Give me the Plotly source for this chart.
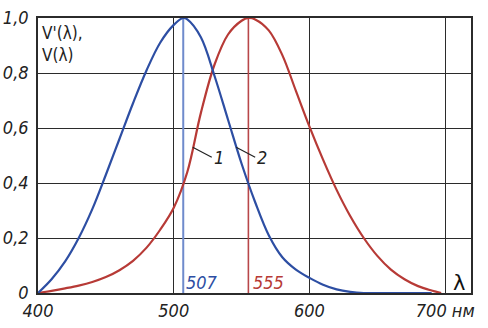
import plotly.graph_objects as go

# Scotopic V'(lambda) — curve 2 (blue)
wl_scot = [400, 410, 420, 430, 440, 450, 460, 470, 480, 490, 500, 507, 510, 520, 530, 540,
           550, 560, 570, 580, 590, 600, 610, 620, 630, 640, 660, 680, 690]
v_scot = [0.0, 0.05, 0.115, 0.20, 0.305, 0.43, 0.56, 0.69, 0.81, 0.91, 0.975, 1.0, 0.995, 0.93,
          0.79, 0.63, 0.47, 0.33, 0.21, 0.13, 0.085, 0.055, 0.03, 0.013, 0.004, 0.0, 0.0, 0.0, 0.0]

# Photopic V(lambda) — curve 1 (red)
wl_phot = [400, 410, 420, 430, 440, 450, 460, 470, 480, 490, 500, 510, 520, 530, 540, 550,
           555, 560, 570, 580, 590, 600, 610, 620, 630, 640, 650, 660, 670, 680, 690, 697]
v_phot = [0.0, 0.008, 0.017, 0.027, 0.04, 0.058, 0.083, 0.117, 0.165, 0.23, 0.31, 0.44, 0.655,
          0.83, 0.94, 0.99, 1.0, 0.995, 0.955, 0.865, 0.735, 0.605, 0.485, 0.375, 0.28, 0.20,
          0.135, 0.085, 0.05, 0.025, 0.009, 0.0]

peak_scot = 507
peak_phot = 555

x_ticks = [400, 500, 600, 700]
x_ticktext = ["400", "500", "600", "700 нм"]
y_ticks = [0, 0.2, 0.4, 0.6, 0.8, 1.0]
y_ticktext = ["0", "0,2", "0,4", "0,6", "0,8", "1,0"]

BLUE = "#2d4ea3"
BLUE_V = "#6f8bcc"
RED = "#b73a36"
RED_V = "#b8474a"
GRID = "#2b2b2b"
FONT = "DejaVu Sans Condensed, Liberation Sans Narrow, DejaVu Sans, sans-serif"

fig = go.Figure()

fig.add_trace(go.Scatter(x=[peak_scot, peak_scot], y=[0, 1.0], mode="lines",
                         line=dict(color=BLUE_V, width=2), hoverinfo="skip"))
fig.add_trace(go.Scatter(x=[peak_phot, peak_phot], y=[0, 1.0], mode="lines",
                         line=dict(color=RED_V, width=1.6), hoverinfo="skip"))
fig.add_trace(go.Scatter(x=wl_phot, y=v_phot, mode="lines",
                         line=dict(color=RED, width=2.2, shape="spline", smoothing=1.0)))
fig.add_trace(go.Scatter(x=wl_scot, y=v_scot, mode="lines",
                         line=dict(color=BLUE, width=2.2, shape="spline", smoothing=1.0)))

ann_font = dict(family=FONT, size=18, color="#222", style="italic")
fig.add_annotation(x=514, y=0.53, text="1", showarrow=True, arrowhead=0, arrowwidth=1.2,
                   arrowcolor="#222", ax=19, ay=10, font=ann_font, xanchor="left")
fig.add_annotation(x=546, y=0.53, text="2", showarrow=True, arrowhead=0, arrowwidth=1.2,
                   arrowcolor="#222", ax=19, ay=10, font=ann_font, xanchor="left")

fig.add_annotation(x=peak_scot, y=0.04, text="507", showarrow=False, xanchor="left",
                   yanchor="middle", xshift=1,
                   font=dict(family=FONT, size=18, color=BLUE, style="italic"))
fig.add_annotation(x=peak_phot, y=0.04, text="555", showarrow=False, xanchor="left",
                   yanchor="middle", xshift=3,
                   font=dict(family=FONT, size=18, color=RED, style="italic"))
fig.add_annotation(x=710, y=0.038, text="λ", showarrow=False, xanchor="center",
                   yanchor="middle", font=dict(family="DejaVu Sans", size=21, color="#111"))
fig.add_annotation(x=401.5, y=0.99, text="V'(λ),<br>V(λ)", showarrow=False, xanchor="left",
                   yanchor="top", align="left",
                   font=dict(family="DejaVu Sans Condensed, DejaVu Sans", size=17, color="#222"))

axis_common = dict(showline=True, linecolor=GRID, linewidth=1.6, mirror=True,
                   showgrid=True, gridcolor=GRID, gridwidth=1.4, zeroline=False,
                   automargin=False, ticks="",
                   tickfont=dict(family=FONT, size=18, color="#222", style="italic"))

fig.update_xaxes(range=[400, 719], tickvals=x_ticks, ticktext=x_ticktext,
                 ticklabelstandoff=1, **axis_common)
fig.update_yaxes(range=[0, 1.0], tickvals=y_ticks, ticktext=y_ticktext,
                 ticklabelstandoff=4, **axis_common)

fig.update_layout(width=488, height=328, margin=dict(l=38, r=17, t=18, b=35),
                  paper_bgcolor="white", plot_bgcolor="white", showlegend=False)

fig.write_html("out.html")
